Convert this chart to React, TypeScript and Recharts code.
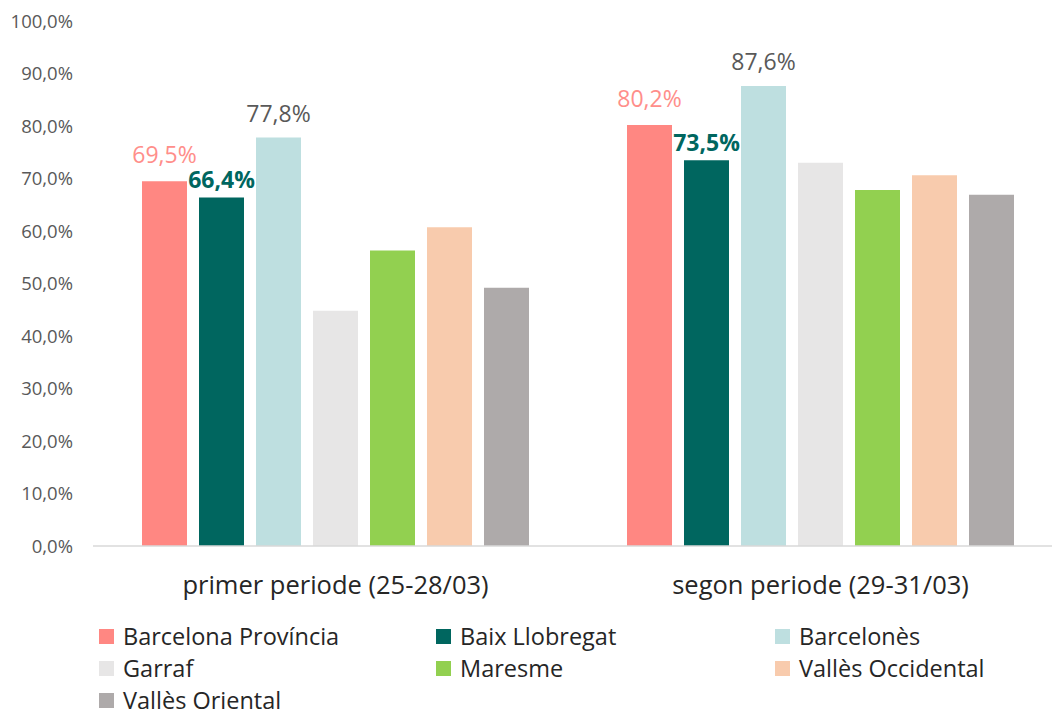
import React from 'react';
import { BarChart, Bar, XAxis, YAxis, Legend, LabelList } from 'recharts';

const categories = ['primer periode (25-28/03)', 'segon periode (29-31/03)'];
const seriesNames = [
  'Barcelona Província',
  'Baix Llobregat',
  'Barcelonès',
  'Garraf',
  'Maresme',
  'Vallès Occidental',
  'Vallès Oriental',
];
const barcelonaProvincia = [69.5, 80.2];
const baixLlobregat = [66.4, 73.5];
const barcelones = [77.8, 87.6];
const garraf = [44.8, 73.0];
const maresme = [56.3, 67.8];
const vallesOccidental = [60.7, 70.6];
const vallesOriental = [49.2, 66.9];
const yTicks = [0, 10, 20, 30, 40, 50, 60, 70, 80, 90, 100];

const seriesValues = [
  barcelonaProvincia,
  baixLlobregat,
  barcelones,
  garraf,
  maresme,
  vallesOccidental,
  vallesOriental,
];
const colors = ['#FF8782', '#00665F', '#BEDFE0', '#E7E6E6', '#92D050', '#F8CBAD', '#AEAAAA'];
const keys = ['s0', 's1', 's2', 's3', 's4', 's5', 's6'];

const data = categories.map((c, i) => {
  const row: any = { name: c };
  keys.forEach((k, j) => {
    row[k] = seriesValues[j][i];
  });
  return row;
});

const FONT = '"Open Sans", Lato, sans-serif';
const fmt = (v: number) => v.toFixed(1).replace('.', ',') + '%';

const labelStyles = [
  { color: '#FF8E8A', weight: 400, dy: 27 },
  { color: '#00665F', weight: 700, dy: 18 },
  { color: '#595959', weight: 400, dy: 25 },
];

const makeLabel = (idx: number) => (props: any) => {
  const { x, y, width, value } = props;
  const s = labelStyles[idx];
  return (
    <text
      x={x + width / 2}
      y={y - s.dy}
      textAnchor="middle"
      dominantBaseline="central"
      fill={s.color}
      fontWeight={s.weight}
      fontSize={23}
      fontFamily={FONT}
    >
      {fmt(value)}
    </text>
  );
};

const CatTick = (props: any) => {
  const { x, y, payload } = props;
  return (
    <text
      x={x}
      y={y + 38}
      textAnchor="middle"
      dominantBaseline="central"
      fill="#262626"
      fontSize={25.5}
      fontFamily={FONT}
    >
      {payload.value}
    </text>
  );
};

const legendCols = [99, 436, 775];

const renderLegend = () => (
  <div style={{ position: 'relative', width: 1052, height: 95, fontFamily: FONT }}>
    {seriesNames.map((n, i) => {
      const col = i % 3;
      const row = Math.floor(i / 3);
      return (
        <div
          key={n}
          style={{
            position: 'absolute',
            left: legendCols[col],
            top: 2 + row * 32,
            height: 24,
            display: 'flex',
            alignItems: 'center',
            whiteSpace: 'nowrap',
          }}
        >
          <span style={{ display: 'inline-block', width: 15, height: 15, background: colors[i], marginRight: 9 }} />
          <span style={{ fontSize: 23.5, lineHeight: '24px', color: '#262626' }}>{n}</span>
        </div>
      );
    })}
  </div>
);

export default function App() {
  return (
    <div style={{ position: 'absolute', left: 0, top: 0, width: 1052, height: 717, overflow: 'hidden', background: '#fff' }}>
      <BarChart
        width={1063}
        height={717}
        data={data}
        margin={{ top: 21, right: 0, bottom: 0, left: 0 }}
        barGap={12}
        barSize={45}
      >
        <XAxis
          dataKey="name"
          height={76}
          axisLine={{ stroke: '#D9D9D9', strokeWidth: 1.5 }}
          tickLine={false}
          tickSize={0}
          tickMargin={0}
          tick={<CatTick />}
        />
        <YAxis
          width={93}
          domain={[0, 100]}
          ticks={yTicks}
          interval={0}
          axisLine={false}
          tickLine={false}
          tickSize={0}
          tickMargin={20}
          tickFormatter={fmt}
          tick={{ fill: '#595959', fontSize: 18.5, fontFamily: FONT }}
        />
        <Legend verticalAlign="bottom" align="left" content={renderLegend} wrapperStyle={{ left: 0, width: 1052 }} />
        {keys.map((k, j) => (
          <Bar key={k} dataKey={k} name={seriesNames[j]} fill={colors[j]} isAnimationActive={false}>
            {j < 3 ? <LabelList dataKey={k} content={makeLabel(j)} /> : null}
          </Bar>
        ))}
      </BarChart>
    </div>
  );
}
